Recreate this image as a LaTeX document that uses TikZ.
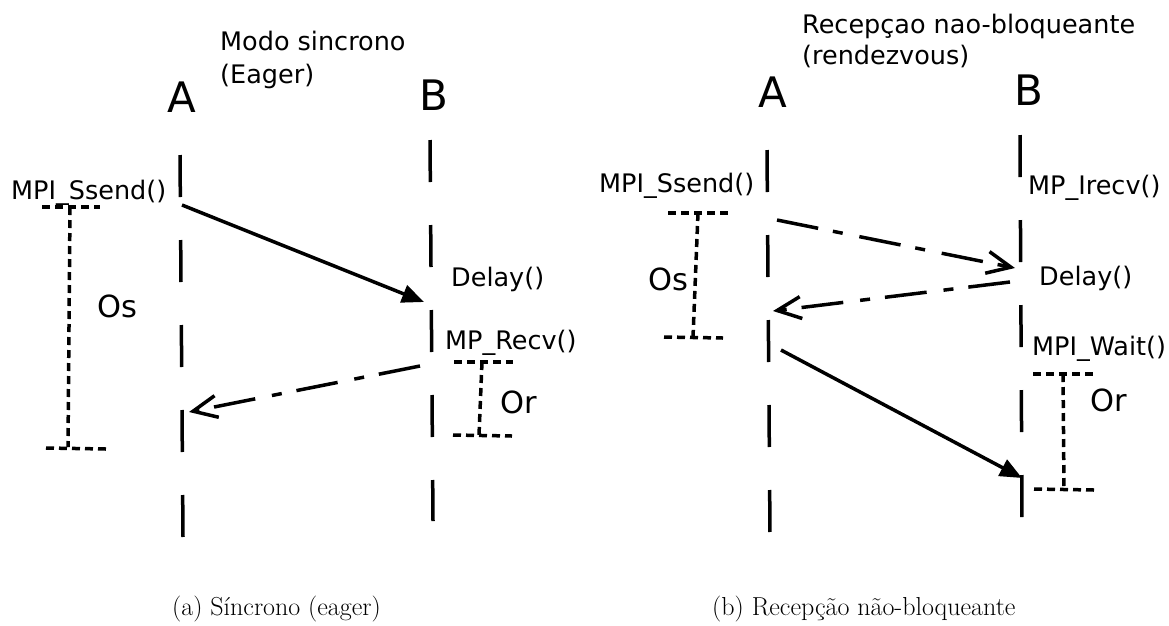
\documentclass[tikz,border=0pt]{standalone}
\usepackage{fontspec}
\newfontfamily\dejavu{DejaVu Sans}
\usetikzlibrary{arrows.meta}

\begin{document}
\begin{tikzpicture}[
        x=1pt, y=-1pt,
        every node/.style = {inner sep=0pt, anchor=base west},
        call/.style = {font=\dejavu\fontsize{25.5}{33}\selectfont},
        proc/.style = {anchor=base, font=\dejavu\fontsize{42}{50}\selectfont},
        overhead/.style = {font=\dejavu\fontsize{30.5}{36}\selectfont},
        subcap/.style = {font=\fontsize{26}{30}\selectfont},
        lifeline/.style = {line width=3.5pt, dash pattern=on 42pt off 43pt},
        msg/.style = {line width=3.5pt, -{Triangle[length=22pt,width=18pt]}},
        ack/.style = {line width=3.5pt, dash pattern=on 42pt off 15pt on 10pt off 17pt,
            -{Straight Barb[length=24pt,width=22pt]}},
        interval/.style = {line width=3.5pt, dash pattern=on 8pt off 5pt}
    ]
    \useasboundingbox (0,0) rectangle (1169,625);

    % Panel a: modo sincrono (eager)
    \node[call] (titleA1) at (220,50) {Modo sincrono};
    \node[call] (titleA2) at (220,83) {(Eager)};
    \node[proc] (pA) at (182,112) {A};
    \node[proc] (pB) at (434,110) {B};
    \coordinate (lA1) at (180,155);
    \coordinate (lA2) at (183,537);
    \coordinate (lB1) at (430,140);
    \coordinate (lB2) at (433,521);
    \draw[lifeline] (lA1) -- (lA2);
    \draw[lifeline] (lB1) -- (lB2);

    \node[call] (ssendA) at (11,199) {MPI\_Ssend()};
    \node[call] (delayA) at (451,286) {Delay()};
    \node[call] (recvA) at (445,349) {MP\_Recv()};

    \coordinate (sA) at (182,205);
    \coordinate (tA) at (424,302);
    \coordinate (sA2) at (420,366);
    \coordinate (tA2) at (189,412);
    \draw[msg] (sA) -- (tA);
    \draw[ack] (sA2) -- (tA2);

    % tempos de overhead
    \draw[interval] (42,207) -- (100,207);
    \draw[interval] (70,207) -- (68,447);
    \draw[interval] (46,448) -- (106,449);
    \node[overhead] (osA) at (97,317) {Os};
    \draw[interval] (454,362) -- (513,362);
    \draw[interval] (482,362) -- (479,435);
    \draw[interval] (453,435) -- (512,436);
    \node[overhead] (orA) at (500,413) {Or};

    % Panel b: recepcao nao-bloqueante (rendezvous)
    \node[call] (titleB1) at (802,33) {Recepçao nao-bloqueante};
    \node[call] (titleB2) at (802,64) {(rendezvous)};
    \node[proc] (qA) at (773,107) {A};
    \node[proc] (qB) at (1029,105) {B};
    \coordinate (mA1) at (767,150);
    \coordinate (mA2) at (770,535);
    \coordinate (mB1) at (1020,135);
    \coordinate (mB2) at (1022,520);
    \draw[lifeline] (mA1) -- (mA2);
    \draw[lifeline] (mB1) -- (mB2);

    \node[call] (ssendB) at (599,192) {MPI\_Ssend()};
    \node[call] (irecvB) at (1028,194) {MP\_Irecv()};
    \node[call] (delayB) at (1039,285) {Delay()};
    \node[call] (waitB) at (1032,355) {MPI\_Wait()};

    \coordinate (sB) at (777,220);
    \coordinate (tB) at (1015,268);
    \coordinate (sB2) at (1010,282);
    \coordinate (tB2) at (773,311);
    \coordinate (sB3) at (781,350);
    \coordinate (tB3) at (1022,478);
    \draw[ack] (sB) -- (tB);
    \draw[ack] (sB2) -- (tB2);
    \draw[msg] (sB3) -- (tB3);

    \draw[interval] (668,213) -- (728,213);
    \draw[interval] (698,213) -- (693,337);
    \draw[interval] (664,337) -- (723,338);
    \node[overhead] (osB) at (648,290) {Os};
    \draw[interval] (1033,374) -- (1093,374);
    \draw[interval] (1063,374) -- (1064,489);
    \draw[interval] (1034,489) -- (1094,490);
    \node[overhead] (orB) at (1090,411) {Or};

    % legendas
    \node[subcap] (capA) at (172,615) {(a) Síncrono (eager)};
    \node[subcap] (capB) at (712,615) {(b) Recepção não-bloqueante};

\end{tikzpicture}
\end{document}
